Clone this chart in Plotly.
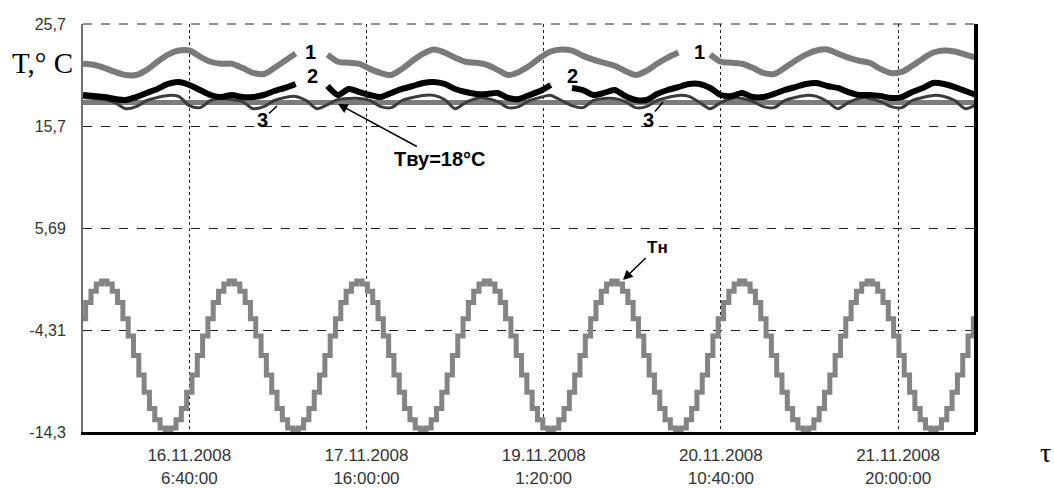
import plotly.graph_objects as go
import pandas as pd

# ---------------- data ----------------
START = "2008-11-15 10:40"
END = "2008-11-22 10:40"
t_hourly = pd.date_range(START, periods=169, freq="h")   # outdoor temperature sampled hourly
t_2h = pd.date_range(START, periods=85, freq="2h")       # indoor curves sampled every 2 h

# Outdoor temperature Tн (hourly steps)
t_out = [
    -3.2, -1.6, -0.5, 0.2,
    0.5, 0.2, -0.5, -1.6, -3.2, -4.9, -6.8, -8.7, -10.4, -12.0, -13.1, -13.9,
    -14.1, -13.9, -13.1, -12.0, -10.4, -8.7, -6.8, -4.9, -3.2, -1.6, -0.5, 0.2,
    0.5, 0.2, -0.5, -1.6, -3.2, -4.9, -6.8, -8.7, -10.4, -12.0, -13.1, -13.9,
    -14.1, -13.9, -13.1, -12.0, -10.4, -8.7, -6.8, -4.9, -3.2, -1.6, -0.5, 0.2,
    0.5, 0.2, -0.5, -1.6, -3.2, -4.9, -6.8, -8.7, -10.4, -12.0, -13.1, -13.9,
    -14.1, -13.9, -13.1, -12.0, -10.4, -8.7, -6.8, -4.9, -3.2, -1.6, -0.5, 0.2,
    0.5, 0.2, -0.5, -1.6, -3.2, -4.9, -6.8, -8.7, -10.4, -12.0, -13.1, -13.9,
    -14.1, -13.9, -13.1, -12.0, -10.4, -8.7, -6.8, -4.9, -3.2, -1.6, -0.5, 0.2,
    0.5, 0.2, -0.5, -1.6, -3.2, -4.9, -6.8, -8.7, -10.4, -12.0, -13.1, -13.9,
    -14.1, -13.9, -13.1, -12.0, -10.4, -8.7, -6.8, -4.9, -3.2, -1.6, -0.5, 0.2,
    0.5, 0.2, -0.5, -1.6, -3.2, -4.9, -6.8, -8.7, -10.4, -12.0, -13.1, -13.9,
    -14.1, -13.9, -13.1, -12.0, -10.4, -8.7, -6.8, -4.9, -3.2, -1.6, -0.5, 0.2,
    0.5, 0.2, -0.5, -1.6, -3.2, -4.9, -6.8, -8.7, -10.4, -12.0, -13.1, -13.9,
    -14.1, -13.9, -13.1, -12.0, -10.4, -8.7, -6.8, -4.9, -3.2,
]

# Curve 1 (gray, top)
t_curve1 = [
    21.8, 21.7, 21.4, 21.0, 20.7, 20.7, 21.2, 22.0, 22.7, 23.1,
    23.1, 22.5, 22.0, 21.8, 21.8, 21.4, 20.9, 20.8, 21.4, 22.1,
    22.8, None, None, 22.7, 22.0, 21.9, 21.8, 21.3, 20.9, 20.7,
    21.3, 22.1, 22.8, 23.2, 22.9, 22.4, 22.0, 21.9, 21.7, 21.2,
    20.7, 21.0, 21.6, 22.4, 23.0, 23.2, 23.1, 22.6, 22.2, 21.9,
    21.6, 21.1, 20.7, 21.1, 21.8, 22.4, 22.9, None, None, 22.7,
    22.0, 21.9, 21.8, 21.4, 20.9, 20.8, 21.4, 22.1, 22.7, 23.1,
    23.2, 22.8, 22.4, 22.1, 21.9, 21.3, 20.9, 21.0, 21.6, 22.3,
    22.9, 23.1, 23.0, 22.7, 22.4,
]

# Curve 2 (black)
t_curve2 = [
    18.74, 18.64, 18.54, 18.35, 18.25, 18.54, 18.94, 19.33, 19.82, 20.01,
    19.72, 19.23, 18.74, 18.54, 18.74, 18.54, 18.54, 18.74, 19.13, 19.43,
    19.82, None, None, 19.62, 18.74, 19.33, 19.03, 18.74, 18.54, 18.94,
    19.33, 19.62, 19.92, 20.01, 19.82, 19.33, 19.03, 18.84, 18.84, 18.94,
    18.45, 18.35, 18.74, 19.13, 19.72, None, 19.43, 19.23, 18.74, 18.94,
    19.23, 18.64, 18.25, 18.25, 18.84, 19.23, 19.52, 19.82, 19.82, 19.43,
    18.74, 18.64, 18.94, 18.54, 18.54, 18.84, 19.23, 19.52, 19.82, 19.92,
    19.62, 19.43, 19.03, 18.74, 18.74, 18.64, 18.45, 18.54, 19.03, 19.43,
    19.92, 19.82, 19.52, 19.13, 18.74,
]

# Curve 3 (dark gray, thin)
t_curve3 = [
    18.5, 18.4, 18.3, 18.0, 17.4, 17.6, 18.2, 18.5, 18.7, 18.6,
    17.7, 17.5, 18.2, 18.4, 18.3, 18.1, 17.4, 17.6, 18.2, 18.5,
    18.6, 18.2, 17.4, 17.8, 18.3, 18.4, 18.4, 18.2, 17.6, 17.5,
    18.2, 18.5, 18.7, 18.7, 18.3, 17.4, 18.0, 18.4, 18.4, 18.1,
    17.5, 17.6, 18.2, 18.5, 18.7, 18.2, 17.7, 17.5, 18.2, 18.4,
    18.4, 18.1, 17.5, 17.6, 18.2, 18.5, 18.7, 18.6, 18.0, 17.4,
    18.0, 18.4, 18.4, 18.1, 17.6, 17.5, 18.2, 18.5, 18.7, 18.6,
    18.1, 17.4, 18.0, 18.4, 18.4, 18.1, 17.6, 17.5, 18.2, 18.5,
    18.7, 18.6, 18.2, 17.4, 17.8,
]

# Design indoor temperature Tву = 18 °C
tvu_x = [START, END]
tvu = [18.0, 18.0]

y_ticks = [25.7, 15.7, 5.69, -4.31, -14.3]
y_tick_text = ["25,7", "15,7", "5,69", "-4,31", "-14,3"]
x_ticks = ["2008-11-16 06:40", "2008-11-17 16:00", "2008-11-19 01:20",
           "2008-11-20 10:40", "2008-11-21 20:00"]
x_tick_text = ["16.11.2008<br>6:40:00", "17.11.2008<br>16:00:00",
               "19.11.2008<br>1:20:00", "20.11.2008<br>10:40:00",
               "21.11.2008<br>20:00:00"]

# ---------------- figure ----------------
L, R, T, B = 83, 976, 24, 432
W, H = 1054, 488


def px(x):
    return (x - L) / (R - L)


def py(y):
    return (B - y) / (B - T)


fig = go.Figure()
fig.add_trace(go.Scatter(x=t_hourly, y=t_out, mode="lines", line=dict(color="#848484", width=5, shape="hvh")))
fig.add_trace(go.Scatter(x=tvu_x, y=tvu, mode="lines", line=dict(color="#7c7c7c", width=5)))
fig.add_trace(go.Scatter(x=t_2h, y=t_curve3, mode="lines", line=dict(color="#3c3c3c", width=3, shape="spline", smoothing=0.8)))
fig.add_trace(go.Scatter(x=t_2h, y=t_curve1, mode="lines", line=dict(color="#7a7a7a", width=6, shape="spline", smoothing=0.8)))
fig.add_trace(go.Scatter(x=t_2h, y=t_curve2, mode="lines", line=dict(color="#000000", width=6, shape="spline", smoothing=0.8)))

font_tick = dict(family="Liberation Sans, Arial, sans-serif", size=16, color="#333")

fig.update_layout(
    width=W, height=H,
    margin=dict(l=L, r=W - R, t=T, b=H - B, autoexpand=False),
    paper_bgcolor="white", plot_bgcolor="white",
    showlegend=False,
    xaxis=dict(
        type="date", range=[START, END], automargin=False,
        tickvals=x_ticks, ticktext=x_tick_text,
        tickfont=dict(family="Liberation Sans, Arial, sans-serif", size=17, color="#333"),
        showgrid=True, gridcolor="#222222", gridwidth=1, griddash="dot",
        showline=True, linecolor="black", linewidth=3,
        ticks="", zeroline=False, ticklabelstandoff=6,
    ),
    yaxis=dict(
        range=[-14.3, 25.7], automargin=False,
        tickvals=y_ticks, ticktext=y_tick_text, tickfont=font_tick,
        showgrid=True, gridcolor="#222222", gridwidth=1, griddash="dash",
        showline=True, linecolor="#707070", linewidth=2,
        ticks="", zeroline=False, ticklabelstandoff=12,
    ),
)

# right border (thick black) and top dashed border
fig.add_shape(type="line", xref="paper", yref="paper", x0=1, x1=1, y0=0, y1=1,
              line=dict(color="black", width=4))
fig.add_shape(type="line", xref="paper", yref="paper", x0=0, x1=1, y0=1, y1=1,
              line=dict(color="#222222", width=1, dash="dash"))

ann = []
lab_font = dict(family="Liberation Sans, Arial, sans-serif", size=20, color="black")
for (x, y, s) in [(310, 52, "1"), (699, 52, "1"), (312, 76, "2"), (572, 76, "2")]:
    ann.append(dict(x=px(x), y=py(y), xref="paper", yref="paper", text="<b>" + s + "</b>",
                    xanchor="center", yanchor="middle", showarrow=False, font=lab_font))
for (x, y, hx, hy) in [(262, 120, 277, 106), (648, 120, 663, 102)]:
    ann.append(dict(x=px(hx), y=py(hy), xref="paper", yref="paper", text="<b>3</b>",
                    showarrow=True, arrowhead=0, arrowwidth=1.5, arrowcolor="black",
                    ax=x - hx, ay=y - hy, font=lab_font, standoff=0))
ann.append(dict(x=px(338), y=py(104), xref="paper", yref="paper", text="<b>Tву=18°C</b>",
                showarrow=True, arrowhead=2, arrowsize=1.3, arrowwidth=1.5, arrowcolor="black",
                ax=440 - 338, ay=159 - 104,
                font=dict(family="Liberation Sans, Arial, sans-serif", size=20, color="black")))
ann.append(dict(x=px(623), y=py(280), xref="paper", yref="paper", text="<b>Tн</b>",
                showarrow=True, arrowhead=2, arrowsize=1.3, arrowwidth=1.5, arrowcolor="black",
                ax=657 - 623, ay=247 - 280,
                font=dict(family="Liberation Sans, Arial, sans-serif", size=17, color="black")))
ann.append(dict(x=px(42), y=py(63), xref="paper", yref="paper", text="T,° C", showarrow=False,
                xanchor="center", yanchor="middle",
                font=dict(family="Liberation Serif, Times New Roman, serif", size=29, color="black")))
ann.append(dict(x=px(1045), y=py(452), xref="paper", yref="paper", text="τ", showarrow=False,
                xanchor="center", yanchor="middle",
                font=dict(family="Liberation Serif, Times New Roman, serif", size=28, color="black")))
fig.update_layout(annotations=ann)

fig.write_html("out.html", config={"displayModeBar": False},
               post_script="document.body.style.margin='0';document.body.style.overflow='hidden';")
